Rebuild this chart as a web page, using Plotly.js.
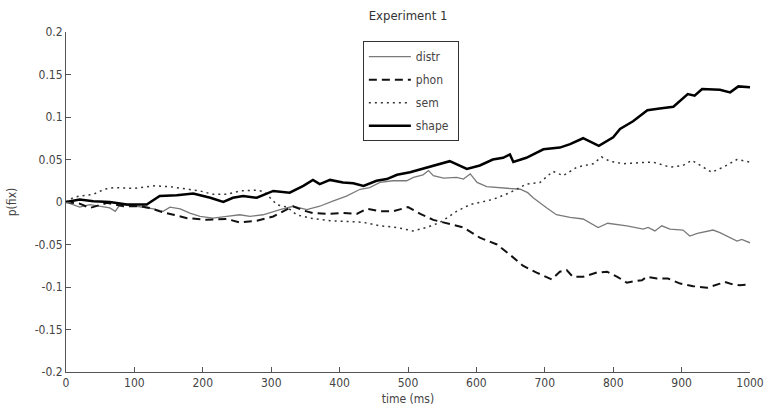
<!DOCTYPE html>
<html>
<head>
<meta charset="utf-8">
<script src="https://cdn.plot.ly/plotly-3.0.1.min.js"></script>
<style>
html,body{margin:0;padding:0;background:#fff;}
#chart{width:767px;height:415px;}
#chart text{font-stretch:condensed !important;}
</style>
</head>
<body>
<div id="chart"></div>
<script>
// time (ms) and p(fix) values
const distrT = [0,20,35,50,64,72,79,103,128,142,152,167,181,196,215,235,254,269,288,313,332,352,371,390,410,430,444,459,478,498,508,522,530,537,552,571,581,591,601,615,645,664,675,683,703,717,737,756,778,792,820,844,851,861,871,883,902,912,923,946,956,981,988,1000];
const distrV = [0,-0.006,-0.003,-0.005,-0.007,-0.011,-0.003,-0.005,-0.008,-0.011,-0.006,-0.008,-0.013,-0.017,-0.019,-0.017,-0.015,-0.017,-0.015,-0.009,-0.005,-0.009,-0.005,0.001,0.007,0.015,0.017,0.023,0.025,0.025,0.029,0.032,0.037,0.031,0.028,0.029,0.027,0.033,0.023,0.018,0.016,0.015,0.011,0.005,-0.007,-0.015,-0.018,-0.020,-0.030,-0.025,-0.028,-0.032,-0.030,-0.034,-0.028,-0.032,-0.033,-0.040,-0.037,-0.033,-0.036,-0.046,-0.044,-0.048];

const phonT = [0,20,35,60,84,108,123,137,157,177,206,235,254,279,303,318,332,347,361,386,405,425,440,459,478,500,518,537,557,581,605,630,649,668,688,710,722,732,741,756,776,791,806,820,832,842,849,864,880,898,917,937,956,963,975,985,1000];
const phonV = [0,-0.002,-0.007,-0.001,-0.005,-0.005,-0.007,-0.011,-0.015,-0.019,-0.021,-0.020,-0.024,-0.022,-0.017,-0.011,-0.005,-0.010,-0.013,-0.014,-0.013,-0.014,-0.008,-0.011,-0.011,-0.006,-0.014,-0.021,-0.025,-0.030,-0.042,-0.050,-0.062,-0.075,-0.083,-0.091,-0.082,-0.080,-0.088,-0.088,-0.083,-0.082,-0.088,-0.095,-0.093,-0.092,-0.088,-0.090,-0.090,-0.096,-0.099,-0.101,-0.096,-0.094,-0.097,-0.098,-0.097];

const semT = [0,10,20,40,56,70,98,130,152,176,196,215,235,254,279,290,308,323,337,357,386,415,435,459,484,507,527,547,571,591,624,649,673,693,712,727,747,771,783,795,815,834,858,883,902,915,944,961,981,1000];
const semV = [0,0.005,0.007,0.009,0.015,0.017,0.016,0.019,0.018,0.015,0.013,0.009,0.009,0.013,0.014,0.012,-0.003,-0.006,-0.015,-0.019,-0.022,-0.023,-0.024,-0.028,-0.030,-0.034,-0.030,-0.024,-0.011,-0.003,0.003,0.011,0.021,0.023,0.036,0.031,0.041,0.045,0.053,0.048,0.045,0.046,0.047,0.041,0.043,0.049,0.035,0.041,0.050,0.047];

const shapeT = [0,20,40,64,89,118,137,162,186,211,230,244,259,279,303,327,347,361,371,386,405,420,435,454,469,484,503,537,561,586,605,624,639,649,654,673,698,722,737,756,779,800,810,829,850,868,888,909,919,930,956,971,983,1000];
const shapeV = [0,0.003,0.001,0,-0.003,-0.003,0.007,0.008,0.010,0.005,0.000,0.005,0.007,0.005,0.013,0.011,0.019,0.026,0.021,0.026,0.023,0.022,0.019,0.025,0.027,0.032,0.035,0.043,0.048,0.039,0.043,0.050,0.052,0.056,0.047,0.052,0.062,0.064,0.068,0.075,0.066,0.076,0.086,0.095,0.108,0.110,0.112,0.127,0.125,0.133,0.132,0.129,0.136,0.135];

const seriesNames = ['distr','phon','sem','shape'];
const xTicks = [0,100,200,300,400,500,600,700,800,900,1000];
const yTicks = [-0.2,-0.15,-0.1,-0.05,0,0.05,0.1,0.15,0.2];
const yTickText = ['-0.2','-0.15','-0.1','-0.05','0','0.05','0.1','0.15','0.2'];

const FONT = '"DejaVu Sans", sans-serif';

const traces = [
  {x: distrT, y: distrV, name: seriesNames[0], legendgroup: 'a', mode: 'lines',
   line: {color: '#7a7a7a', width: 1.3}},
  {x: phonT, y: phonV, name: seriesNames[1], legendgroup: 'b', mode: 'lines',
   line: {color: '#111', width: 2, dash: '8px,5px'}},
  {x: semT, y: semV, name: seriesNames[2], legendgroup: 'c', mode: 'lines',
   line: {color: '#333', width: 1.5, dash: '2px,4px'}},
  {x: shapeT, y: shapeV, name: seriesNames[3], legendgroup: 'd', mode: 'lines',
   line: {color: '#000', width: 2.5}}
];

const axisCommon = {
  showline: true, linecolor: '#555', linewidth: 1, mirror: false,
  ticks: 'inside', ticklen: 5, tickcolor: '#555', tickwidth: 1,
  showgrid: false, zeroline: false,
  tickfont: {family: FONT, size: 12, color: '#444'}
};

const layout = {
  width: 767, height: 415,
  margin: {l: 66, r: 17, t: 32, b: 43},
  paper_bgcolor: '#fff', plot_bgcolor: '#fff',
  font: {family: FONT, color: '#444'},
  title: {text: 'Experiment 1', x: 0.532, xanchor: 'center', y: 0.962, yanchor: 'middle',
          font: {family: FONT, size: 13, color: '#333'}},
  xaxis: Object.assign({}, axisCommon, {
    range: [0, 1000], tickvals: xTicks, ticktext: xTicks.map(String),
    title: {text: 'time (ms)', standoff: 5, font: {family: FONT, size: 12, color: '#444'}}
  }),
  yaxis: Object.assign({}, axisCommon, {
    range: [-0.2, 0.2], tickvals: yTicks, ticktext: yTickText,
    title: {text: 'p(fix)', standoff: 12, font: {family: FONT, size: 12, color: '#444'}}
  }),
  showlegend: true,
  legend: {
    x: 0.434, xanchor: 'left', y: 0.973, yanchor: 'top',
    bordercolor: '#333', borderwidth: 1, bgcolor: '#fff',
    font: {family: FONT, size: 12, color: '#444'},
    traceorder: 'grouped', tracegroupgap: 4, itemwidth: 42,
    entrywidth: 88, entrywidthmode: 'pixels'
  }
};

Plotly.newPlot('chart', traces, layout, {displayModeBar: false, staticPlot: true});
</script>
</body>
</html>
